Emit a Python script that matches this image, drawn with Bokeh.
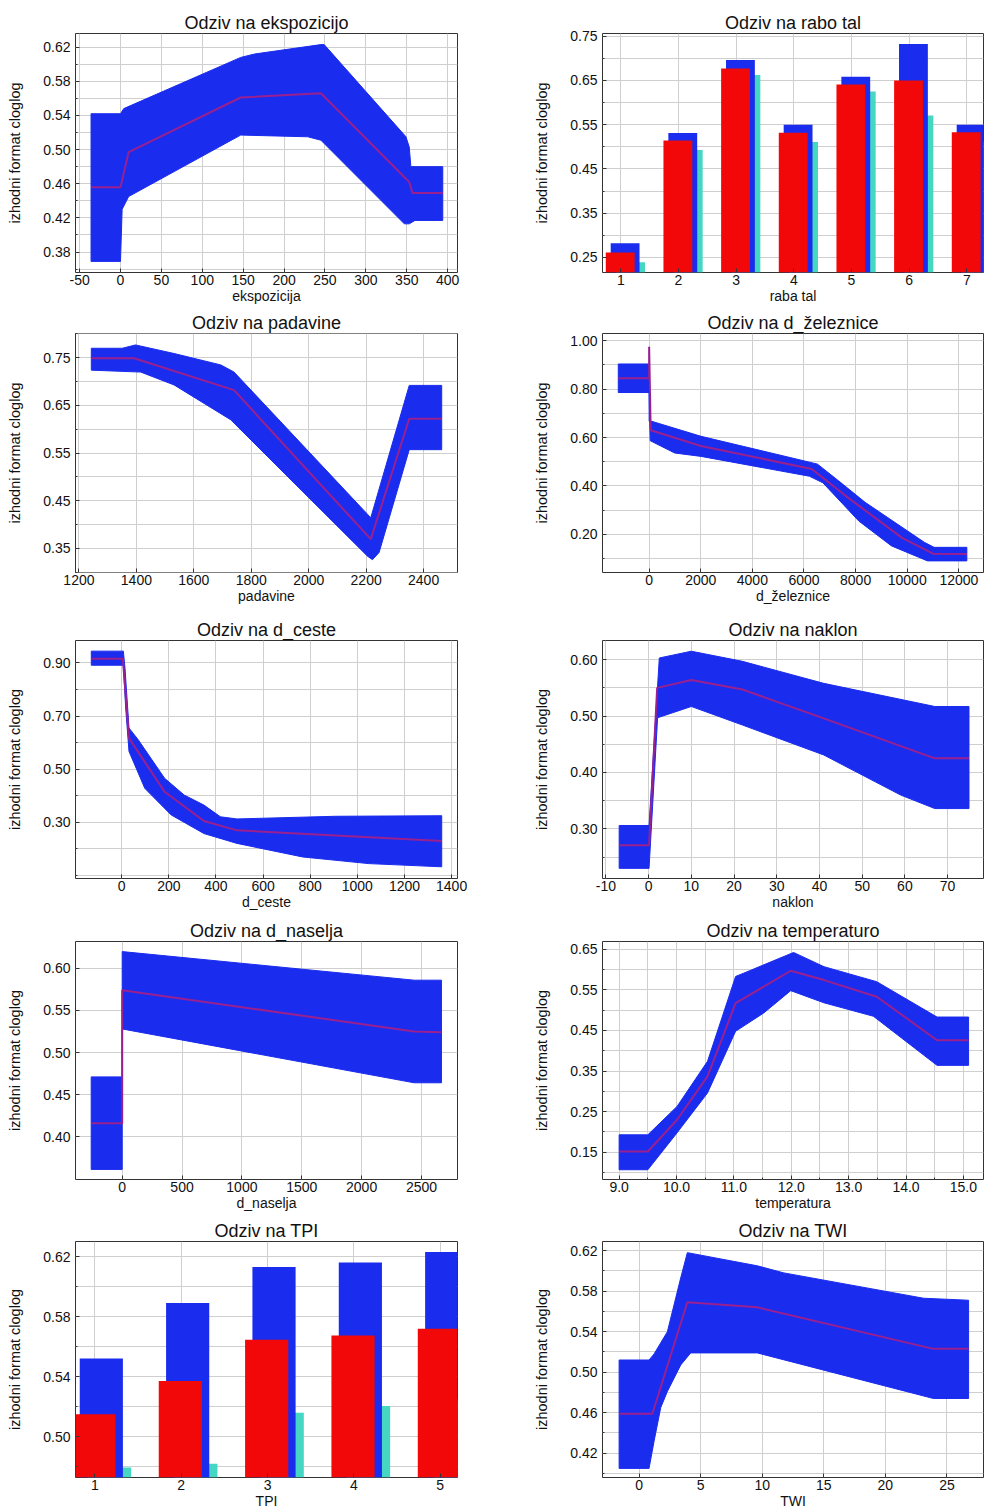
from bokeh.plotting import figure
from bokeh.layouts import column, row
from bokeh.models import FixedTicker, PrintfTickFormatter, Range1d
from bokeh.embed import file_html
from bokeh.resources import INLINE

# ---------------- data ----------------
# 1 ekspozicija
exp_up_x = [-36, 0, 4, 147, 164, 245, 249, 349, 353, 355, 394]
exp_up_y = [0.542, 0.542, 0.548, 0.608, 0.612, 0.623, 0.623, 0.515, 0.503, 0.480, 0.480]
exp_lo_x = [-36, 0, 2, 10, 147, 229, 245, 347, 353, 360, 394]
exp_lo_y = [0.369, 0.369, 0.430, 0.445, 0.517, 0.515, 0.511, 0.413, 0.413, 0.417, 0.417]
exp_mean_x = [-36, 0, 10, 147, 245, 353, 357, 394]
exp_mean_y = [0.456, 0.456, 0.497, 0.561, 0.566, 0.462, 0.449, 0.449]

# 2 raba tal
raba_cat = [1, 2, 3, 4, 5, 6, 7]
raba_upper = [0.282, 0.531, 0.696, 0.550, 0.658, 0.732, 0.550]
raba_mean = [0.261, 0.514, 0.677, 0.532, 0.641, 0.650, 0.533]
raba_lower = [0.239, 0.493, 0.662, 0.511, 0.625, 0.571, 0.512]

# 3 padavine
pad_up_x = [1243, 1351, 1397, 1531, 1694, 1740, 2216, 2350, 2463]
pad_up_y = [0.770, 0.770, 0.777, 0.759, 0.735, 0.720, 0.414, 0.692, 0.692]
pad_lo_x = [1243, 1415, 1531, 1728, 2205, 2222, 2245, 2350, 2463]
pad_lo_y = [0.724, 0.720, 0.693, 0.620, 0.333, 0.326, 0.341, 0.557, 0.557]
pad_mean_x = [1243, 1392, 1740, 2216, 2350, 2463]
pad_mean_y = [0.749, 0.749, 0.682, 0.369, 0.622, 0.622]

# 4 d_železnice
zel_up_x = [-1196, 0, 0, 100, 2010, 6335, 6525, 7350, 8370, 10660, 11040, 12310]
zel_up_y = [0.904, 0.904, 0.667, 0.667, 0.605, 0.495, 0.490, 0.420, 0.332, 0.167, 0.146, 0.146]
zel_lo_x = [-1196, 0, 40, 990, 2010, 6210, 6730, 8120, 9390, 10785, 12310]
zel_lo_y = [0.786, 0.786, 0.587, 0.536, 0.522, 0.440, 0.413, 0.255, 0.152, 0.090, 0.090]
zel_mean_x = [-1196, 0, 0, 60, 2010, 6300, 7600, 9800, 11000, 12310]
zel_mean_y = [0.845, 0.845, 0.975, 0.630, 0.565, 0.470, 0.360, 0.185, 0.120, 0.118]

# 5 d_ceste
ces_up_x = [-129, 7, 14, 31, 70, 182, 265, 349, 419, 489, 908, 1358]
ces_up_y = [0.944, 0.944, 0.881, 0.655, 0.611, 0.466, 0.403, 0.365, 0.321, 0.313, 0.323, 0.325]
ces_lo_x = [-129, 7, 17, 31, 98, 210, 349, 489, 768, 1048, 1358]
ces_lo_y = [0.891, 0.891, 0.730, 0.567, 0.428, 0.328, 0.258, 0.221, 0.170, 0.145, 0.133]
ces_mean_x = [-129, 5, 31, 182, 349, 489, 908, 1358]
ces_mean_y = [0.915, 0.915, 0.617, 0.415, 0.305, 0.270, 0.251, 0.230]

# 6 naklon
nak_up_x = [-6.9, 0.1, 2.5, 10, 22, 41, 67, 75]
nak_up_y = [0.306, 0.306, 0.603, 0.615, 0.597, 0.558, 0.517, 0.517]
nak_lo_x = [-6.9, 0.1, 2.1, 10, 22, 41, 59, 67, 75]
nak_lo_y = [0.230, 0.230, 0.497, 0.517, 0.484, 0.431, 0.360, 0.336, 0.336]
nak_mean_x = [-6.9, 0.1, 2, 10, 22, 41, 67, 75]
nak_mean_y = [0.271, 0.271, 0.550, 0.564, 0.547, 0.496, 0.425, 0.425]

# 7 d_naselja
nas_up_x = [-259, 0, 0, 2439, 2667]
nas_up_y = [0.471, 0.471, 0.620, 0.586, 0.586]
nas_lo_x = [-259, 0, 0, 2439, 2667]
nas_lo_y = [0.361, 0.361, 0.528, 0.464, 0.464]
nas_mean_x = [-259, 0, 0, 2439, 2667]
nas_mean_y = [0.416, 0.416, 0.574, 0.525, 0.524]

# 8 temperatura
tem_up_x = [9.0, 9.5, 10.01, 10.54, 11.03, 11.17, 12.04, 12.57, 13.49, 14.54, 15.09]
tem_up_y = [0.193, 0.193, 0.263, 0.374, 0.583, 0.591, 0.642, 0.607, 0.570, 0.483, 0.483]
tem_lo_x = [9.0, 9.5, 10.01, 10.54, 11.03, 11.52, 11.99, 12.57, 13.43, 14.54, 15.09]
tem_lo_y = [0.107, 0.107, 0.198, 0.296, 0.448, 0.493, 0.548, 0.518, 0.485, 0.364, 0.364]
tem_mean_x = [9.0, 9.5, 10.01, 10.54, 11.03, 11.99, 12.57, 13.49, 14.54, 15.09]
tem_mean_y = [0.152, 0.152, 0.230, 0.337, 0.517, 0.597, 0.574, 0.533, 0.426, 0.426]

# 9 TPI
tpi_cat = [1, 2, 3, 4, 5]
tpi_upper = [0.552, 0.589, 0.613, 0.616, 0.623]
tpi_mean = [0.515, 0.537, 0.5645, 0.5674, 0.5718]
tpi_lower = [0.4795, 0.482, 0.516, 0.5205, 0.525]

# 10 TWI
twi_up_x = [-1.62, 0.81, 1.22, 2.3, 3.38, 3.92, 9.6, 11.76, 23.1, 26.76]
twi_up_y = [0.512, 0.512, 0.518, 0.540, 0.593, 0.618, 0.605, 0.598, 0.573, 0.571]
twi_lo_x = [-1.62, 0.81, 1.22, 1.76, 2.3, 3.38, 4.19, 9.6, 23.9, 26.76]
twi_lo_y = [0.405, 0.405, 0.432, 0.465, 0.481, 0.507, 0.519, 0.519, 0.474, 0.474]
twi_mean_x = [-1.62, 1.08, 3.92, 9.6, 23.9, 26.76]
twi_mean_y = [0.459, 0.459, 0.569, 0.564, 0.523, 0.523]

YLABEL = "izhodni format cloglog"

# ---------------- style ----------------
FONT = "Liberation Sans"
BAND = "#1a2cee"
MEAN = "#9a2090"
RED = "#f20808"
BLUE_BAR = "#1a2cee"
CYAN = "#45d6c4"
GRID = "#cfcfcf"
TXT = "#111111"

# (top border, frame height, bottom border) per row
ROWS = [(33, 239, 33), (27, 239, 37), (31, 238, 33), (29, 238, 32), (28, 236, 34)]


def make_fig(title, xlabel, xr, yr, xticks, yticks, yminor, left_col, rowi,
             xminor=None, yfmt="%.2f", xfmt="%d"):
    top, fh, bottom = ROWS[rowi]
    p = figure(
        frame_width=382 if left_col else 381,
        frame_height=fh,
        x_range=Range1d(*xr), y_range=Range1d(*yr),
        output_backend="svg", toolbar_location=None,
        min_border_left=75 if left_col else 112,
        min_border_right=33 if left_col else 2,
        min_border_top=top, min_border_bottom=bottom,
        title=title,
    )
    p.title.text_font = FONT
    p.title.text_font_size = "18px"
    p.title.text_font_style = "normal"
    p.title.text_color = TXT
    p.title.align = "center"
    p.title.standoff = 1
    p.title.offset = 0

    p.outline_line_color = "#333333"
    p.outline_line_width = 1
    p.background_fill_color = "white"
    p.border_fill_color = "white"

    p.xaxis.ticker = FixedTicker(ticks=xticks, minor_ticks=xminor or [])
    p.yaxis.ticker = FixedTicker(ticks=yticks, minor_ticks=yminor)
    p.xaxis.formatter = PrintfTickFormatter(format=xfmt)
    p.yaxis.formatter = PrintfTickFormatter(format=yfmt)
    p.xaxis.axis_label = xlabel
    p.yaxis.axis_label = YLABEL

    for ax in (p.xaxis, p.yaxis):
        ax.axis_line_color = None
        ax.major_tick_in = 4
        ax.major_tick_out = 0
        ax.minor_tick_in = 2
        ax.minor_tick_out = 0
        ax.major_tick_line_color = "#333333"
        ax.minor_tick_line_color = "#333333"
        ax.major_label_text_font = FONT
        ax.major_label_text_font_size = "14px"
        ax.major_label_text_color = TXT
        ax.axis_label_text_font = FONT
        ax.axis_label_text_font_style = "normal"
        ax.axis_label_text_color = TXT
    p.xaxis.axis_label_text_font_size = "14px"
    p.yaxis.axis_label_text_font_size = "14.5px"
    p.xaxis.major_label_standoff = 2
    p.xaxis.axis_label_standoff = 0
    p.yaxis.major_label_standoff = 5
    p.yaxis.axis_label_standoff = 17

    p.xgrid.grid_line_color = GRID
    p.ygrid.grid_line_color = GRID
    p.ygrid.minor_grid_line_color = GRID
    if xminor:
        p.xgrid.minor_grid_line_color = GRID
    return p


def band(p, ux, uy, lx, ly, mx, my):
    xs = list(ux) + list(lx)[::-1]
    ys = list(uy) + list(ly)[::-1]
    p.patch(xs, ys, fill_color=BAND, line_color=BAND, line_width=1)
    p.line(mx, my, line_color=MEAN, line_width=2)


def bars(p, cats, lower, upper, mean):
    p.vbar(x=[c + 0.17 for c in cats], top=lower, bottom=0, width=0.5,
           fill_color=CYAN, line_color=None)
    p.vbar(x=[c + 0.075 for c in cats], top=upper, bottom=0, width=0.5,
           fill_color=BLUE_BAR, line_color=None)
    p.vbar(x=[c - 0.01 for c in cats], top=mean, bottom=0, width=0.5,
           fill_color=RED, line_color=None)


# 1
f1 = make_fig("Odziv na ekspozicijo", "ekspozicija", (-55, 412), (0.356, 0.636),
              [-50, 0, 50, 100, 150, 200, 250, 300, 350, 400],
              [0.38, 0.42, 0.46, 0.50, 0.54, 0.58, 0.62],
              [0.36, 0.40, 0.44, 0.48, 0.52, 0.56, 0.60], True, 0)
band(f1, exp_up_x, exp_up_y, exp_lo_x, exp_lo_y, exp_mean_x, exp_mean_y)

# 2
f2 = make_fig("Odziv na rabo tal", "raba tal", (0.683, 7.29), (0.216, 0.756),
              raba_cat, [0.25, 0.35, 0.45, 0.55, 0.65, 0.75],
              [0.30, 0.40, 0.50, 0.60, 0.70], False, 0)
bars(f2, raba_cat, raba_lower, raba_upper, raba_mean)

# 3
f3 = make_fig("Odziv na padavine", "padavine", (1188, 2518), (0.299, 0.801),
              [1200, 1400, 1600, 1800, 2000, 2200, 2400],
              [0.35, 0.45, 0.55, 0.65, 0.75],
              [0.30, 0.40, 0.50, 0.60, 0.70, 0.80], True, 1)
band(f3, pad_up_x, pad_up_y, pad_lo_x, pad_lo_y, pad_mean_x, pad_mean_y)

# 4
f4 = make_fig("Odziv na d_železnice", "d_železnice", (-1807, 12955), (0.042, 1.03),
              [0, 2000, 4000, 6000, 8000, 10000, 12000],
              [0.20, 0.40, 0.60, 0.80, 1.00],
              [0.10, 0.30, 0.50, 0.70, 0.90], False, 1)
band(f4, zel_up_x, zel_up_y, zel_lo_x, zel_lo_y, zel_mean_x, zel_mean_y)

# 5
f5 = make_fig("Odziv na d_ceste", "d_ceste", (-196, 1425), (0.089, 0.984),
              [0, 200, 400, 600, 800, 1000, 1200, 1400],
              [0.30, 0.50, 0.70, 0.90],
              [0.10, 0.20, 0.40, 0.60, 0.80], True, 2)
band(f5, ces_up_x, ces_up_y, ces_lo_x, ces_lo_y, ces_mean_x, ces_mean_y)

# 6
f6 = make_fig("Odziv na naklon", "naklon", (-10.8, 78.4), (0.212, 0.634),
              [-10, 0, 10, 20, 30, 40, 50, 60, 70],
              [0.30, 0.40, 0.50, 0.60],
              [0.25, 0.35, 0.45, 0.55], False, 2)
band(f6, nak_up_x, nak_up_y, nak_lo_x, nak_lo_y, nak_mean_x, nak_mean_y)

# 7
f7 = make_fig("Odziv na d_naselja", "d_naselja", (-390, 2801), (0.349, 0.632),
              [0, 500, 1000, 1500, 2000, 2500],
              [0.40, 0.45, 0.50, 0.55, 0.60], [], True, 3)
band(f7, nas_up_x, nas_up_y, nas_lo_x, nas_lo_y, nas_mean_x, nas_mean_y)

# 8
f8 = make_fig("Odziv na temperaturo", "temperatura", (8.71, 15.35), (0.083, 0.669),
              [9, 10, 11, 12, 13, 14, 15],
              [0.15, 0.25, 0.35, 0.45, 0.55, 0.65],
              [0.10, 0.20, 0.30, 0.40, 0.50, 0.60], False, 3,
              xminor=[9.5, 10.5, 11.5, 12.5, 13.5, 14.5], xfmt="%.1f")
band(f8, tem_up_x, tem_up_y, tem_lo_x, tem_lo_y, tem_mean_x, tem_mean_y)

# 9
f9 = make_fig("Odziv na TPI", "TPI", (0.776, 5.2), (0.4728, 0.630),
              tpi_cat, [0.50, 0.54, 0.58, 0.62],
              [0.48, 0.52, 0.56, 0.60], True, 4)
bars(f9, tpi_cat, tpi_lower, tpi_upper, tpi_mean)

# 10
f10 = make_fig("Odziv na TWI", "TWI", (-2.97, 27.97), (0.396, 0.629),
               [0, 5, 10, 15, 20, 25],
               [0.42, 0.46, 0.50, 0.54, 0.58, 0.62],
               [0.40, 0.44, 0.48, 0.52, 0.56, 0.60], False, 4)
band(f10, twi_up_x, twi_up_y, twi_lo_x, twi_lo_y, twi_mean_x, twi_mean_y)

layout = column(
    row(f1, f2, spacing=0),
    row(f3, f4, spacing=0),
    row(f5, f6, spacing=0),
    row(f7, f8, spacing=0),
    row(f9, f10, spacing=0),
    spacing=0,
)

open("out.html", "w").write(file_html(layout, INLINE))
